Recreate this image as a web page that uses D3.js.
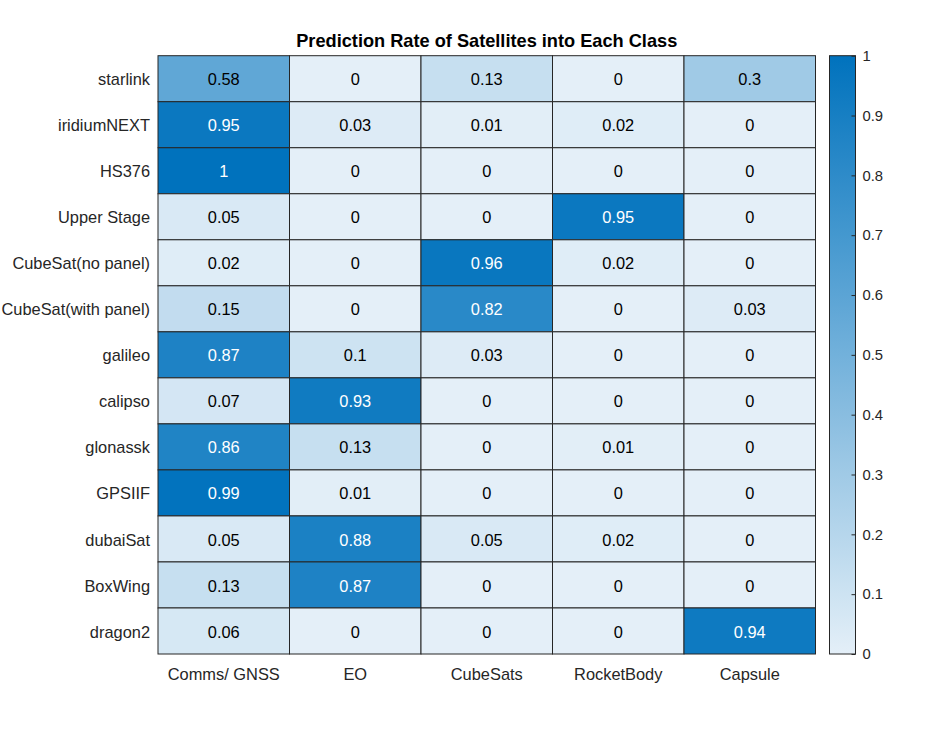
<!DOCTYPE html>
<html>
<head>
<meta charset="utf-8">
<script src="https://cdn.jsdelivr.net/npm/d3@7"></script>
<style>
  body { margin: 0; background: #fff; }
  text { font-family: "Liberation Sans", Arial, sans-serif; }
</style>
</head>
<body>
<svg id="chart" width="946" height="736"></svg>
<script>
// data
const classes = ["Comms/ GNSS", "EO", "CubeSats", "RocketBody", "Capsule"];
const satellites = ["starlink", "iridiumNEXT", "HS376", "Upper Stage", "CubeSat(no panel)",
  "CubeSat(with panel)", "galileo", "calipso", "glonassk", "GPSIIF", "dubaiSat", "BoxWing", "dragon2"];
const rates = [
  [0.58, 0, 0.13, 0, 0.3],
  [0.95, 0.03, 0.01, 0.02, 0],
  [1, 0, 0, 0, 0],
  [0.05, 0, 0, 0.95, 0],
  [0.02, 0, 0.96, 0.02, 0],
  [0.15, 0, 0.82, 0, 0.03],
  [0.87, 0.1, 0.03, 0, 0],
  [0.07, 0.93, 0, 0, 0],
  [0.86, 0.13, 0, 0.01, 0],
  [0.99, 0.01, 0, 0, 0],
  [0.05, 0.88, 0.05, 0.02, 0],
  [0.13, 0.87, 0, 0, 0],
  [0.06, 0, 0, 0, 0.94]
];
const colorTicks = [0, 0.1, 0.2, 0.3, 0.4, 0.5, 0.6, 0.7, 0.8, 0.9, 1];
const chartTitle = "Prediction Rate of Satellites into Each Class";

const svg = d3.select("#chart");
const plotLeft = 158, plotRight = 815.5, plotTop = 55.7, plotBottom = 654;

const x = d3.scaleBand().domain(classes).range([plotLeft, plotRight]);
const y = d3.scaleBand().domain(satellites).range([plotTop, plotBottom]);
const color = d3.scaleLinear().domain([0, 1])
  .range(["rgb(228,239,248)", "rgb(0,114,189)"]).interpolate(d3.interpolateRgb);

// flatten cells
let cells = [];
satellites.forEach(function (s, i) {
  classes.forEach(function (c, j) {
    cells.push({ sat: s, cls: c, v: rates[i][j] });
  });
});

svg.append("g").selectAll("rect").data(cells).join("rect")
  .attr("x", d => x(d.cls))
  .attr("y", d => y(d.sat))
  .attr("width", x.bandwidth())
  .attr("height", y.bandwidth())
  .attr("fill", d => color(d.v))
  .attr("stroke", "#262626")
  .attr("stroke-width", 1);

svg.append("g").selectAll("text").data(cells).join("text")
  .attr("x", d => x(d.cls) + x.bandwidth() / 2)
  .attr("y", d => y(d.sat) + y.bandwidth() / 2)
  .attr("dy", "0.4em")
  .attr("text-anchor", "middle")
  .attr("font-size", 16.4)
  .attr("fill", d => d.v > 0.6 ? "#ffffff" : "#000000")
  .text(d => d.v);

// axes labels (no lines, matlab heatmap style)
const yAxis = svg.append("g").attr("transform", "translate(" + plotLeft + ",0)")
  .call(d3.axisLeft(y).tickSize(0).tickPadding(8));
yAxis.select(".domain").remove();
yAxis.selectAll("text").attr("font-size", 16.4).attr("fill", "#262626")
  .attr("dy", "0.4em")
  .attr("font-family", "Liberation Sans, Arial, sans-serif");

const xAxis = svg.append("g").attr("transform", "translate(0," + plotBottom + ")")
  .call(d3.axisBottom(x).tickSize(0).tickPadding(14));
xAxis.select(".domain").remove();
xAxis.selectAll("text").attr("font-size", 16.4).attr("fill", "#262626")
  .attr("font-family", "Liberation Sans, Arial, sans-serif");

svg.append("text")
  .attr("x", (plotLeft + plotRight) / 2)
  .attr("y", 47)
  .attr("text-anchor", "middle")
  .attr("font-size", 18.2)
  .attr("font-weight", "bold")
  .attr("fill", "#000")
  .text(chartTitle);

// colorbar
const cbLeft = 829.5, cbRight = 855.5;
const cbScale = d3.scaleLinear().domain([0, 1]).range([plotBottom, plotTop]);
const defs = svg.append("defs");
const grad = defs.append("linearGradient").attr("id", "cbgrad")
  .attr("x1", 0).attr("y1", 1).attr("x2", 0).attr("y2", 0);
grad.selectAll("stop").data(colorTicks).join("stop")
  .attr("offset", d => d)
  .attr("stop-color", d => color(d));

svg.append("rect")
  .attr("x", cbLeft).attr("y", plotTop)
  .attr("width", cbRight - cbLeft).attr("height", plotBottom - plotTop)
  .attr("fill", "url(#cbgrad)")
  .attr("stroke", "#262626").attr("stroke-width", 1);

const cbAxis = svg.append("g").attr("transform", "translate(" + cbRight + ",0)")
  .call(d3.axisRight(cbScale).tickValues(colorTicks).tickFormat(d3.format("")).tickSizeInner(-4).tickSizeOuter(0).tickPadding(7));
cbAxis.select(".domain").remove();
cbAxis.selectAll("line").attr("stroke", "#262626");
cbAxis.selectAll("text").attr("font-size", 14.8).attr("fill", "#262626")
  .attr("font-family", "Liberation Sans, Arial, sans-serif");
</script>
</body>
</html>
